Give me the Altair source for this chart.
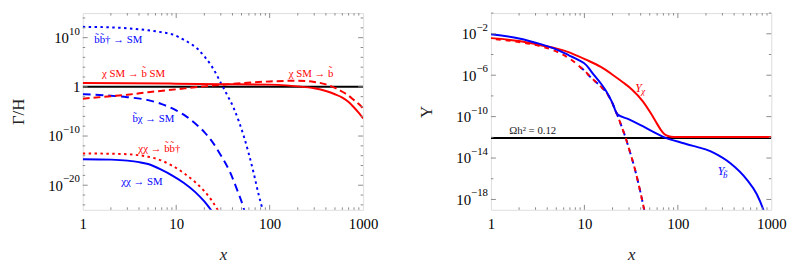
import altair as alt
import pandas as pd
import math

FONT = "Liberation Serif"
RED = "#ff0000"
BLUE = "#0000ff"
FRAME = "#8a8a8a"
W, H = 285, 200

# ---------------- left panel data (x, log10 of Gamma/H) ----------------
bb_x = [1, 2, 3, 5, 7, 9, 12, 15, 17, 20, 23.6, 27, 30, 35, 41, 47, 53, 60, 68, 76, 82, 90]
bb_logy = [12.2, 12.1, 11.9, 11.5, 11.1, 10.7, 9.6, 8.5, 7.7, 6.2, 4.4, 2.5, 0.8, -1.6, -4.2, -7.1, -10.1, -13.7, -17.8, -21.8, -24.2, -27]

chiSMbSM_x = [1, 3, 10, 30, 100, 150, 200, 300, 400, 500, 600, 700, 800, 900, 1000]
chiSMbSM_logy = [0.8, 0.75, 0.65, 0.55, 0.45, 0.3, 0.1, -0.3, -0.85, -1.5, -2.2, -3.1, -4.2, -5.3, -6.4]

chiSMb_x = [1, 2, 3, 5, 10, 20, 40, 100, 200, 300, 400, 500, 600, 700, 800, 900, 1000]
chiSMb_logy = [-2.4, -1.9, -1.6, -1.1, -0.5, 0.1, 0.6, 1.1, 1.25, 1.0, 0.5, -0.2, -1.0, -1.8, -2.7, -3.5, -4.4]

bchi_x = [1, 2, 3, 5, 7, 10, 13, 17, 20, 25, 30, 38, 45, 52, 56]
bchi_logy = [-1.5, -1.8, -2.1, -2.7, -3.5, -4.8, -6.1, -7.9, -9.2, -11.5, -13.9, -17.5, -21.0, -24.3, -26.5]

chichibb_x = [1, 2, 3, 4, 5, 7, 9, 12, 16, 20, 24, 29]
chichibb_logy = [-13.55, -13.6, -13.7, -13.9, -14.2, -15.0, -16.0, -17.5, -19.4, -21.2, -23.1, -25.6]

chichiSM_x = [1, 2, 3, 4, 5, 7, 9, 12, 16, 20, 25]
chichiSM_logy = [-14.7, -14.8, -15.0, -15.3, -15.7, -16.9, -18.0, -19.5, -21.4, -23.3, -25.7]

left_unit_x = [1, 1000]
left_unit_y = [1, 1]

left_lab_text = ["b̃b̃† → SM", "χ SM → b̃ SM", "χ SM → b̃", "b̃χ → SM", "χχ → b̃b̃†", "χχ → SM"]
left_lab_x = [2.4, 3.5, 277, 5.7, 6.6, 4.3]
left_lab_logy = [9.5, 2.6, 2.7, -6.6, -12.6, -19.3]
left_lab_color = [BLUE, RED, RED, BLUE, RED, BLUE]

# ---------------- right panel data (x, log10 of Y) ----------------
Ychi_x = [1, 2, 3.4, 6.4, 10.4, 15, 20, 26, 32, 42, 52, 60, 66, 72, 80, 90, 100, 1000]
Ychi_logy = [-2.42, -2.7, -3.1, -3.7, -4.5, -5.2, -5.95, -6.7, -7.35, -8.5, -9.75, -10.7, -11.3, -11.7, -11.9, -11.96, -11.97, -11.97]

Yb_x = [1, 2, 3.4, 5, 6.9, 8.5, 10.4, 12.7, 15, 17, 20, 22.4, 30, 45, 72, 118, 243, 365, 550, 700, 815, 880]
Yb_logy = [-2.05, -2.45, -3.0, -3.5, -4.1, -4.5, -5.0, -6.0, -6.8, -7.5, -8.7, -9.75, -10.27, -11.07, -12.0, -12.6, -13.5, -14.5, -16.1, -17.5, -18.9, -19.8]

Ychieq_x = [1, 2, 3.4, 5, 6.4, 8, 9, 10.4, 11.3, 12.7, 15, 17, 20, 22.4, 25, 27.4, 30, 35, 40, 45]
Ychieq_logy = [-2.5, -2.8, -3.2, -3.7, -4.2, -4.8, -5.2, -5.7, -6.07, -6.5, -7.1, -7.6, -8.75, -9.8, -10.95, -11.95, -13.1, -15.2, -17.4, -19.6]

Ybeq_x = [9, 10.4, 11.3, 12.7, 15, 17, 20, 22.4, 25, 27.4, 30, 35, 40, 45]
Ybeq_logy = [-5.2, -5.7, -6.07, -6.5, -7.1, -7.6, -8.75, -9.8, -10.95, -11.95, -13.1, -15.2, -17.4, -19.6]

relic_x = [1, 1000]
relic_logy = [-12.06, -12.06]

right_lab_text = ["Ωh² = 0.12"]
right_lab_x = [2.8]
right_lab_logy = [-11.37]

# ---------------- axes ----------------
x_ticks = [1, 10, 100, 1000]
x_labels = ["1", "10", "100", "1000"]
x_minor = [m * 10 ** d for d in range(3) for m in range(2, 10)]

ly_ticks = [1e-20, 1e-10, 1, 1e10]
ly_base = ["10", "10", "1", "10"]
ly_exp = ["−20", "−10", "", "10"]
ly_minor = [10.0 ** e for e in range(-24, 15, 2) if e % 10 != 0]

ry_ticks = [1e-18, 1e-14, 1e-10, 1e-6, 1e-2]
ry_base = ["10", "10", "10", "10", "10"]
ry_exp = ["−18", "−14", "−10", "−6", "−2"]
ry_minor = [1e-16, 1e-12, 1e-8, 1e-4, 1]

BASE_PAD = 3
EXP_FS = 11


def etest(v):
    return f"round(log(datum.value)/LN10) == {round(math.log10(v))}"


def label_expr(vals, labels):
    expr = ""
    for v, lab in zip(vals, labels):
        expr += f"{etest(v)} ? '{lab}' : "
    return expr + "''"


def pad_cond(vals, exps):
    conds = []
    for v, ex in zip(vals, exps):
        if not ex:
            continue
        w = 0.5 * EXP_FS * len(ex.replace("−", "")) + (0.564 * EXP_FS if "−" in ex else 0)
        conds.append({"test": etest(v), "value": BASE_PAD + w + 0.5})
    return {"condition": conds, "value": BASE_PAD}


def make_panel(ydomain, yticks, ybase, yexp, yminor, ytitle, lines, texts):
    xs = alt.Scale(type="log", domain=[1, 1000], nice=False)
    ys = alt.Scale(type="log", domain=ydomain, nice=False)
    xaxis = alt.Axis(
        values=x_ticks, labelExpr=label_expr(x_ticks, x_labels), ticks=False, tickSize=0,
        domain=False, grid=False, labelFont=FONT, labelFontSize=15, labelColor="black",
        labelPadding=7, labelFlush=False, labelOverlap=False, title="x", titleFont=FONT,
        titleFontStyle="italic", titleFontWeight="normal", titleFontSize=17, titlePadding=16,
        titleColor="#222")
    yaxis = alt.Axis(
        values=yticks, labelExpr=label_expr(yticks, ybase), ticks=False, tickSize=0,
        domain=False, grid=False, labelFont=FONT, labelFontSize=15, labelColor="black",
        labelPadding=pad_cond(yticks, yexp), labelFlush=False, labelOverlap=False,
        title=ytitle, titleFont=FONT, titleFontWeight="normal", titleFontSize=17,
        titlePadding=21, titleColor="#222")

    def X(f):
        return alt.X(f, scale=xs, axis=xaxis)

    def Y(f):
        return alt.Y(f, scale=ys, axis=yaxis)

    layers = []

    def xt(vals, ln):
        df = pd.DataFrame({"x": vals})
        out = []
        for y0, y1 in [(H, H - ln), (0, ln)]:
            out.append(alt.Chart(df).mark_rule(color=FRAME, strokeWidth=1).encode(
                x=X("x:Q"), y=alt.value(y0), y2=alt.value(y1)))
        return out

    def yt(vals, ln):
        df = pd.DataFrame({"y": vals})
        out = []
        for x0, x1 in [(0, ln), (W, W - ln)]:
            out.append(alt.Chart(df).mark_rule(color=FRAME, strokeWidth=1).encode(
                y=Y("y:Q"), x=alt.value(x0), x2=alt.value(x1)))
        return out

    for xsv, yv, color, dash, offset in lines:
        df = pd.DataFrame({"x": xsv, "y": yv})
        kw = dict(color=color, strokeWidth=2, clip=True, interpolate="monotone")
        if dash:
            kw["strokeDash"] = dash
        if offset:
            kw["strokeDashOffset"] = offset
        layers.append(alt.Chart(df).mark_line(**kw).encode(x=X("x:Q"), y=Y("y:Q")))

    layers += xt(x_ticks[1:-1], 5) + xt(x_minor, 2.5) + yt(yticks, 5) + yt(yminor, 2.5)

    # exponents of the y tick labels
    edf = pd.DataFrame({"y": yticks, "t": yexp})
    layers.append(alt.Chart(edf).mark_text(
        font=FONT, fontSize=EXP_FS, align="right", baseline="middle", dy=-6, color="black"
    ).encode(y=Y("y:Q"), x=alt.value(-BASE_PAD), text="t:N"))

    for tx, ty, tt, tc, fs, style in texts:
        df = pd.DataFrame({"x": tx, "y": ty, "t": tt, "c": tc})
        layers.append(alt.Chart(df).mark_text(font=FONT, fontSize=fs, fontStyle=style).encode(
            x=X("x:Q"), y=Y("y:Q"), text="t:N", color=alt.Color("c:N", scale=None)))
    return alt.layer(*layers).properties(width=W, height=H)


def p10(a):
    return [10.0 ** v for v in a]


left = make_panel(
    [1e-25, 1e15], ly_ticks, ly_base, ly_exp, ly_minor, "Γ/H",
    [
        (left_unit_x, left_unit_y, "black", None, None),
        (bb_x, p10(bb_logy), BLUE, [2.5, 3.5], None),
        (bchi_x, p10(bchi_logy), BLUE, [8, 5], None),
        (chichiSM_x, p10(chichiSM_logy), BLUE, None, None),
        (chichibb_x, p10(chichibb_logy), RED, [2.5, 3.5], None),
        (chiSMb_x, p10(chiSMb_logy), RED, [7, 4], None),
        (chiSMbSM_x, p10(chiSMbSM_logy), RED, None, None),
    ],
    [(left_lab_x, p10(left_lab_logy), left_lab_text, left_lab_color, 11, "normal")],
)

right = make_panel(
    [1e-19, 1], ry_ticks, ry_base, ry_exp, ry_minor, "Y",
    [
        (relic_x, p10(relic_logy), "black", None, None),
        (Ybeq_x, p10(Ybeq_logy), BLUE, [5, 5], None),
        (Ychieq_x, p10(Ychieq_logy), RED, [5, 5], 5),
        (Ychi_x, p10(Ychi_logy), RED, None, None),
        (Yb_x, p10(Yb_logy), BLUE, None, None),
    ],
    [
        (right_lab_x, p10(right_lab_logy), right_lab_text, ["#222"], 11, "normal"),
        ([38], [10 ** -7.25], ["Y"], [RED], 12, "italic"),
        ([42.5], [10 ** -7.5], ["χ"], [RED], 9, "italic"),
        ([290], [10 ** -15.3], ["Y"], [BLUE], 12, "italic"),
        ([322], [10 ** -15.6], ["b̃"], [BLUE], 9, "italic"),
    ],
)

chart = alt.hconcat(left, right, spacing=38).properties(
    padding={"left": 0, "top": 2, "right": 2, "bottom": 2}
).configure_view(stroke=FRAME, strokeWidth=1).configure(background="white")

chart.save("out.html", embed_options={"renderer": "svg", "actions": False})
